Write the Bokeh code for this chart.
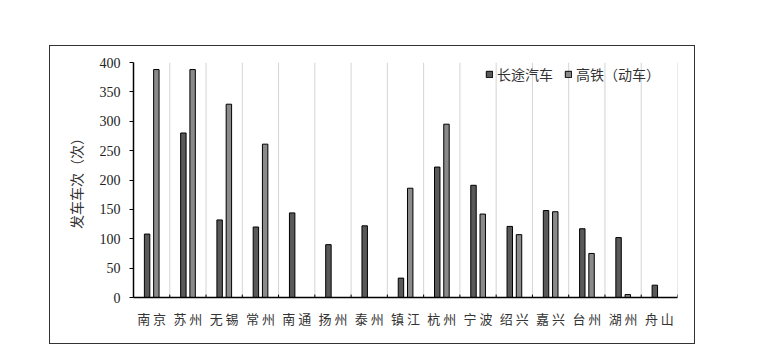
from bokeh.plotting import figure
from bokeh.models import (Range1d, FactorRange, ColumnDataSource, Legend, LegendItem,
                          FixedTicker)
from bokeh.transform import dodge
from bokeh.embed import file_html
from bokeh.resources import INLINE

cities = ["南京", "苏州", "无锡", "常州", "南通", "扬州", "泰州", "镇江",
          "杭州", "宁波", "绍兴", "嘉兴", "台州", "湖州", "舟山"]
bus = [108, 280, 132, 120, 144, 90, 122, 33, 222, 191, 121, 148, 117, 102, 21]
rail = [388, 388, 329, 261, 0, 0, 0, 186, 295, 142, 107, 146, 75, 5, 0]
y_ticks = [0, 50, 100, 150, 200, 250, 300, 350, 400]

labels = [c[0] + " " + c[1] for c in cities]

FONT_NUM = "Liberation Serif"
FONT_CJK = "Noto Sans CJK SC"

p = figure(width=646, height=299, output_backend="svg", toolbar_location=None,
           x_range=FactorRange(factors=labels, range_padding=0),
           y_range=Range1d(0, 400),
           min_border_left=83, min_border_right=19,
           min_border_top=16, min_border_bottom=48,
           margin=(45, 0, 0, 49),
           styles={"border": "1.5px solid #333333"})
p.outline_line_color = None
p.background_fill_color = "white"
p.border_fill_color = "white"
p.ygrid.grid_line_color = None
p.xgrid.grid_line_color = None

src = ColumnDataSource(dict(x=labels, bus=bus, rail=rail,
                            y0=[0] * len(labels), ytop=[400] * len(labels),
                            ytk=[5] * len(labels)))

# category boundary grid lines
p.segment(x0=dodge("x", 0.5, range=p.x_range), x1=dodge("x", 0.5, range=p.x_range),
          y0="y0", y1="ytop", source=src, line_color="#d4d4d4", line_width=1)
# boundary tick marks on x axis
p.segment(x0=dodge("x", 0.5, range=p.x_range), x1=dodge("x", 0.5, range=p.x_range),
          y0="y0", y1="ytk", source=src, line_color="black", line_width=1)

r1 = p.vbar(x=dodge("x", -0.125, range=p.x_range), top="bus", width=0.15, source=src,
            fill_color="#595959", line_color="black", line_width=1)
r2 = p.vbar(x=dodge("x", 0.13, range=p.x_range), top="rail", width=0.15, source=src,
            fill_color="#8a8a8a", line_color="black", line_width=1)

legend = Legend(items=[LegendItem(label="长途汽车", renderers=[r1]),
                       LegendItem(label="高铁（动车）", renderers=[r2])],
                orientation="horizontal", location=(352, 213),
                background_fill_alpha=0, border_line_color=None,
                padding=0, margin=0, spacing=11, label_standoff=4,
                glyph_width=8, glyph_height=8, label_height=16,
                label_text_font=FONT_CJK, label_text_font_size="14px",
                label_text_color="#333333")
p.add_layout(legend)

# axes
p.yaxis.ticker = FixedTicker(ticks=y_ticks)
p.yaxis.minor_tick_line_color = None
p.yaxis.major_tick_in = 0
p.yaxis.major_tick_out = 4
p.yaxis.axis_line_width = 1.5
p.yaxis.axis_line_color = "black"
p.yaxis.major_label_text_font = FONT_NUM
p.yaxis.major_label_text_font_size = "14px"
p.yaxis.major_label_text_color = "#222222"
p.yaxis.major_label_standoff = 9
p.yaxis.axis_label = "发车车次（次）"
p.yaxis.axis_label_text_font = FONT_CJK
p.yaxis.axis_label_text_font_size = "14px"
p.yaxis.axis_label_text_font_style = "normal"
p.yaxis.axis_label_text_color = "#333333"
p.yaxis.axis_label_standoff = 11

p.xaxis.major_tick_line_color = None
p.xaxis.axis_line_width = 1.5
p.xaxis.axis_line_color = "black"
p.xaxis.major_label_text_font = FONT_CJK
p.xaxis.major_label_text_font_size = "13px"
p.xaxis.major_label_text_color = "#333333"
p.xaxis.major_label_standoff = 5

open("out.html", "w").write(file_html(p, INLINE))
